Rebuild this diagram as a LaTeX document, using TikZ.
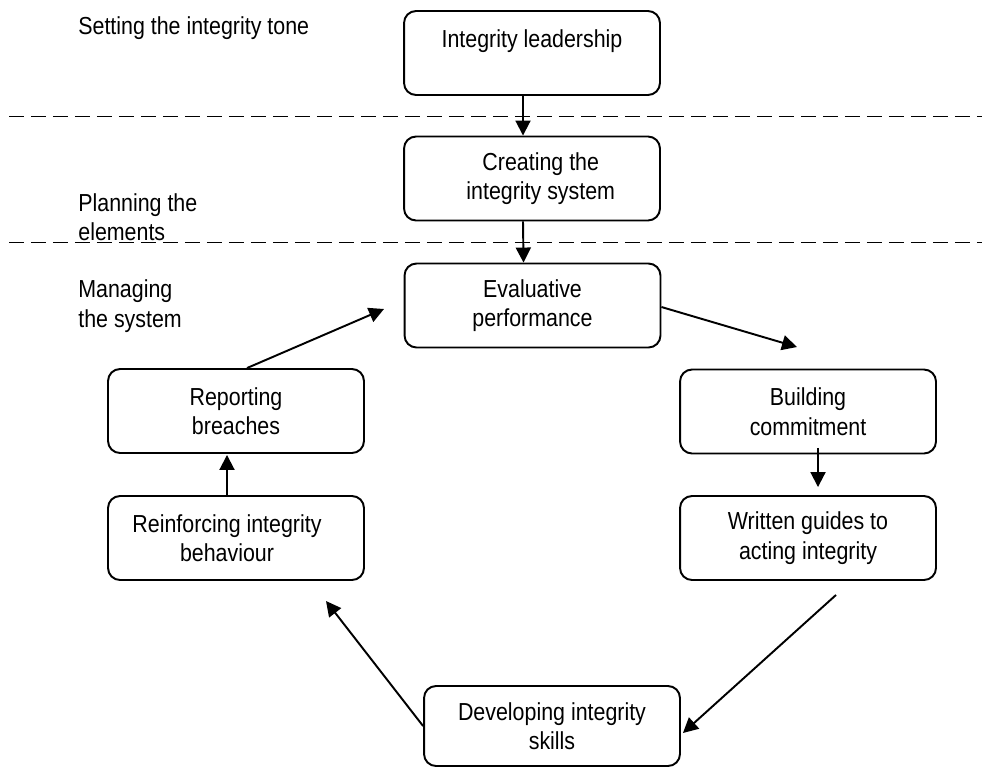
\documentclass[tikz,border=0pt]{standalone}
\usepackage{fontspec}
\setmainfont[FakeStretch=0.87]{Liberation Sans}
\usetikzlibrary{arrows.meta,calc}
\begin{document}
\begin{tikzpicture}[x=0.02cm,y=-0.02cm,
  font=\fontsize{14}{16.8}\selectfont,
  stagebox/.style={draw,line width=1.1pt,rounded corners=0.24cm,minimum width=5.12cm,minimum height=1.68cm,align=center,inner sep=0pt},
  lbl/.style={anchor=west,align=left,inner sep=0pt},
  conn/.style={line width=1.1pt,-{Triangle[length=0.3cm,width=0.3cm]}},
  dashline/.style={line width=1.1pt,dash pattern=on 0.3cm off 0.14cm}]
\useasboundingbox (0,0) rectangle (982,767);
% dashed separators
\coordinate (d1a) at (9,116.5);
\coordinate (d1b) at (982,116.5);
\coordinate (d2a) at (9,242.5);
\coordinate (d2b) at (982,242.5);
\draw[dashline] (d1a) -- (d1b);
\draw[dashline] (d2a) -- (d2b);
% boxes
\node[stagebox] (lead) at (532,53) {Integrity leadership\\ \mbox{}};
\node[stagebox] (create) at (532,178.5) {\raisebox{-0.06cm}{\hspace*{0.35cm}Creating the}\\ \raisebox{-0.06cm}{\hspace*{0.35cm}integrity system}};
\node[stagebox] (eval) at (532.5,305.5) {Evaluative\\performance};
\node[stagebox] (build) at (808,411.5) {Building\\commitment};
\node[stagebox] (written) at (808,538) {Written guides to\\acting integrity};
\node[stagebox,minimum height=1.6cm] (develop) at (552,726) {Developing integrity\\skills};
\node[stagebox] (report) at (236,411) {Reporting\\breaches};
\node[stagebox] (reinforce) at (236,538) {Reinforcing integrity\hspace*{0.36cm}\\behaviour\hspace*{0.36cm}};
% left labels
\node[lbl] (tone) at (78,28) {Setting the integrity tone};
\node[lbl] (plan) at (78,217) {Planning the\\elements};
\node[lbl] (manage) at (78,306) {Managing\\the system};
% free ends
\coordinate (tipB) at (797,347);
\coordinate (tipR) at (326,601);
\coordinate (tipE) at (384,309);
% connectors
\draw[conn] ($(lead.south)+(-9,0)$) -- ($(create.north)+(-9,0)$);
\draw[conn] ($(create.south)+(-9,0)$) -- ($(eval.north)+(-9,0)$);
\draw[conn] ($(eval.east)+(0,1.5)$) -- (tipB);
\draw[conn] ($(build.south)+(10,-6.5)$) -- ($(written.north)+(10,-8)$);
\draw[conn] ($(written.south)+(28,14)$) -- ($(develop.east)+(2,7)$);
\draw[conn] (develop.west) -- (tipR);
\draw[conn] ($(reinforce.north)+(-9,0)$) -- ($(report.south)+(-9,1)$);
\draw[conn] ($(report.north)+(11,0)$) -- (tipE);
\end{tikzpicture}
\end{document}
